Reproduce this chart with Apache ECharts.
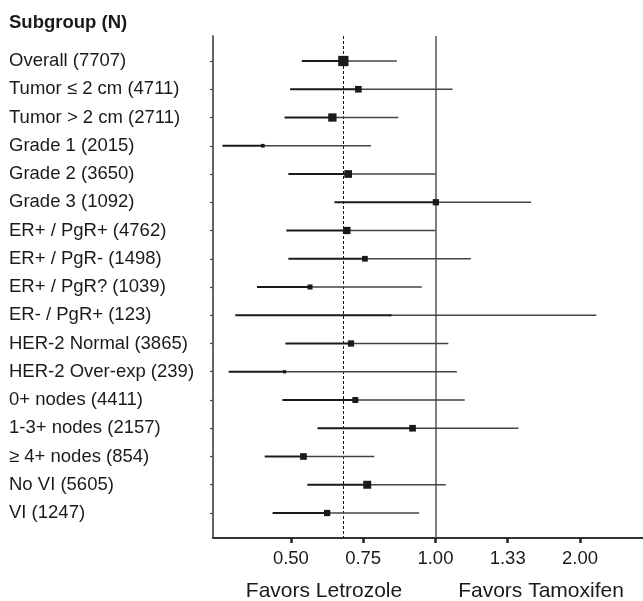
<!DOCTYPE html>
<html>
<head>
<meta charset="utf-8">
<script src="https://cdn.jsdelivr.net/npm/echarts@6/dist/echarts.min.js"></script>
<style>
  html, body { margin: 0; padding: 0; background: #fff; }
  #chart { width: 643px; height: 601px; }
</style>
</head>
<body>
<div id="chart"></div>
<script>
// ---- data ----
var subgroups = [
  "Overall (7707)", "Tumor \u2264 2 cm (4711)", "Tumor > 2 cm (2711)",
  "Grade 1 (2015)", "Grade 2 (3650)", "Grade 3 (1092)",
  "ER+ / PgR+ (4762)", "ER+ / PgR- (1498)", "ER+ / PgR? (1039)",
  "ER- / PgR+ (123)", "HER-2 Normal (3865)", "HER-2 Over-exp (239)",
  "0+ nodes (4411)", "1-3+ nodes (2157)", "\u2265 4+ nodes (854)",
  "No VI (5605)", "VI (1247)"
];
var hazardRatio = [0.643, 0.691, 0.610, 0.437, 0.658, 1.002, 0.654, 0.713, 0.548,
                   0.806, 0.667, 0.485, 0.681, 0.896, 0.531, 0.721, 0.595];
var ciLower     = [0.527, 0.498, 0.485, 0.360, 0.494, 0.616, 0.489, 0.494, 0.425,
                   0.383, 0.487, 0.371, 0.480, 0.568, 0.441, 0.541, 0.458];
var ciUpper     = [0.831, 1.085, 0.837, 0.734, 1.000, 1.582, 1.000, 1.185, 0.937,
                   2.163, 1.064, 1.108, 1.151, 1.489, 0.746, 1.051, 0.925];
var weights     = [100, 42, 65, 13, 56, 37, 50, 31, 24, 4, 37, 10, 34, 42, 42, 60, 37];
var tickValues  = [0.5, 0.707, 1, 1.414, 2];
var tickLabels  = ["0.50", "0.75", "1.00", "1.33", "2.00"];
var axisNames   = ["Favors Letrozole", "Favors Tamoxifen"];
var overallHR   = hazardRatio[0];

// ---- build ----
var FONT = '"Liberation Sans", Arial, Helvetica, sans-serif';
var log2 = function (v) { return Math.log(v) / Math.LN2; };
var seriesData = subgroups.map(function (s, i) {
  return [log2(ciLower[i]), log2(hazardRatio[i]), log2(ciUpper[i]), i, weights[i]];
});
var tickPos = tickValues.map(log2);
var rowIdx = subgroups.map(function (s, i) { return i; });

var chart = echarts.init(document.getElementById('chart'), null, { renderer: 'canvas' });
chart.setOption({
  animation: false,
  backgroundColor: '#ffffff',
  grid: { left: 213, right: 0, top: 36, bottom: 63, containLabel: false },
  xAxis: {
    type: 'value',
    min: -1.539, max: 1.436,
    splitLine: { show: false },
    axisLine: { show: true, onZero: false, lineStyle: { color: '#333', width: 2 } },
    axisTick: { show: true, customValues: tickPos, length: 5, lineStyle: { color: '#222', width: 2.5 } },
    axisLabel: {
      show: true, customValues: tickPos, margin: 11,
      color: '#1a1a1a', fontFamily: FONT, fontSize: 18.5,
      formatter: function (v) {
        for (var k = 0; k < tickPos.length; k++) {
          if (Math.abs(tickPos[k] - v) < 1e-6) return tickLabels[k];
        }
        return '';
      }
    }
  },
  yAxis: {
    type: 'value',
    inverse: true,
    min: -0.885, max: 16.885,
    splitLine: { show: false },
    axisLine: { show: true, onZero: false, lineStyle: { color: '#666', width: 2 } },
    axisTick: { show: true, customValues: rowIdx, length: 3, lineStyle: { color: '#444', width: 1.2 } },
    axisLabel: {
      show: true, customValues: rowIdx, margin: 204, align: 'left',
      color: '#1a1a1a', fontFamily: FONT, fontSize: 18.5,
      formatter: function (v) { return subgroups[Math.round(v)] || ''; }
    }
  },
  graphic: [
    { type: 'text', left: 9, top: 13,
      style: { text: 'Subgroup (N)', font: 'bold 18.5px ' + FONT, fill: '#1a1a1a' } },
    { type: 'text', x: 324, y: 591,
      style: { text: axisNames[0], font: '21px ' + FONT, fill: '#1a1a1a', align: 'center', verticalAlign: 'middle' } },
    { type: 'text', x: 541, y: 591,
      style: { text: axisNames[1], font: '21px ' + FONT, fill: '#1a1a1a', align: 'center', verticalAlign: 'middle' } }
  ],
  series: [{
    type: 'custom',
    data: seriesData,
    encode: { x: [0, 1, 2], y: 3 },
    clip: false,
    renderItem: function (params, api) {
      var lo = api.coord([api.value(0), api.value(3)]);
      var pt = api.coord([api.value(1), api.value(3)]);
      var hi = api.coord([api.value(2), api.value(3)]);
      var s = 10.3 * Math.sqrt(api.value(4) / 100);
      return {
        type: 'group',
        children: [
          { type: 'line', shape: { x1: lo[0], y1: lo[1], x2: pt[0], y2: pt[1] },
            style: { stroke: '#1a1a1a', lineWidth: 2 } },
          { type: 'line', shape: { x1: pt[0], y1: pt[1], x2: hi[0], y2: hi[1] },
            style: { stroke: '#444', lineWidth: 1.5 } },
          { type: 'rect', shape: { x: pt[0] - s / 2, y: pt[1] - s / 2, width: s, height: s },
            style: { fill: '#1a1a1a' }, z2: 10 }
        ]
      };
    },
    markLine: {
      silent: true,
      symbol: ['none', 'none'],
      label: { show: false },
      z: 1,
      data: [
        { xAxis: 0, lineStyle: { color: '#555', width: 1.5, type: 'solid' } },
        { xAxis: log2(overallHR), lineStyle: { color: '#111', width: 1, type: [3, 2] } }
      ]
    }
  }]
});
</script>
</body>
</html>
